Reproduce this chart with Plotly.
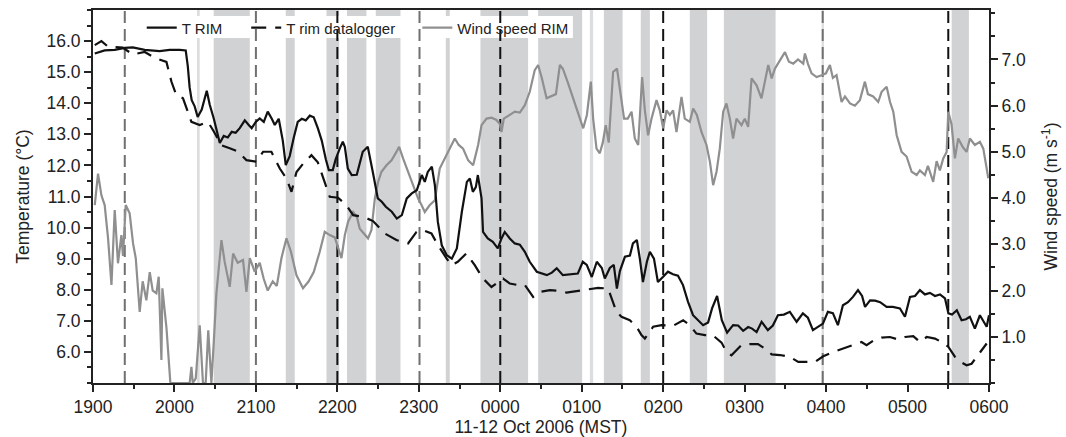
import plotly.graph_objects as go

# ---------------- data (time in minutes after 19:00 MST, 11 Oct 2006) ----------------
TICK_MIN = [0, 60, 120, 180, 240, 300, 360, 420, 480, 540, 600, 660]
TICK_LABELS = ["1900", "2000", "2100", "2200", "2300", "0000",
               "0100", "0200", "0300", "0400", "0500", "0600"]
TEMP_TICKS = [6, 7, 8, 9, 10, 11, 12, 13, 14, 15, 16]
WIND_TICKS = [1, 2, 3, 4, 5, 6, 7]

t_rim_min = [1.3, 8.6, 16, 23.4, 29.3, 38.1, 49.1, 56.5, 63.9, 68.3, 69.8, 71.2, 72.7, 74.9, 77.1,
             80.1, 83.8, 86, 89, 91.1, 93.4, 96.3, 99.3, 102.2, 105.1, 108.1, 111.8, 114.7, 116.9,
             119.9, 122.8, 125.8, 128.7, 131.7, 133.9, 136.8, 139.8, 142, 144.9, 147.9, 150.8,
             153.8, 156.7, 159.7, 162.6, 165.6, 168.5, 171.5, 173.7, 176.6, 178.8, 181.8, 184,
             185.5, 187.7, 190.6, 194.3, 198.7, 202.4, 206.1, 209.8, 212.7, 215.7, 220.1, 223.8,
             227.5, 231.1, 234.8, 238.5, 242.2, 244.4, 246.6, 249.6, 251.8, 254, 256.9, 260.6,
             264.3, 268, 271.7, 275.4, 277.6, 279.8, 282, 283.5, 286.2, 287.3, 290.8, 294.5,
             298.2, 300.9, 303.3, 307, 310.7, 314.4, 318.1, 321.7, 326.9, 334.3, 338, 341.6,
             346.1, 351.1, 357.1, 360.8, 363.7, 367.4, 371.1, 374.8, 377, 380.7, 383.6, 385.9,
             388.1, 391.8, 395.5, 397.7, 400.6, 402.8, 405.1, 408, 410.2, 413.2, 416.1, 419.8,
             423.5, 427.2, 430.9, 434.6, 438.3, 442, 445.7, 449.4, 453.1, 456, 459.7, 463.2,
             467.1, 471.5, 475.2, 478.9, 482.6, 485.5, 488.8, 492.5, 497.1, 500.8, 504.5, 508.9,
             513.3, 518.3, 522.9, 526.6, 530.3, 534, 537.7, 541.3, 545, 548.7, 552.4, 556.1,
             559.8, 563.5, 566.5, 568.7, 572.4, 576.1, 579.8, 584.6, 589.2, 594.4, 598.1, 601.8,
             605.5, 609.1, 612.8, 616.5, 620.2, 623.9, 627.6, 630.1, 632.8, 636.3, 639.8, 643,
             645.9, 649.6, 653.3, 658.3, 660]
t_rim_val = [15.6, 15.7, 15.72, 15.78, 15.8, 15.72, 15.68, 15.72, 15.72, 15.7, 15.2, 14.5, 14.1,
             13.9, 13.56, 13.8, 14.4, 13.95, 13.5, 13.1, 12.72, 12.95, 12.9, 13.08, 13.05, 13.2,
             13.45, 13.3, 13.2, 13.4, 13.51, 13.4, 13.73, 13.5, 13.3, 13.5, 12.8, 12.01, 12.3,
             12.9, 13.4, 13.5, 13.45, 13.6, 13.55, 13.2, 12.8, 12.2, 11.85, 11.85, 12.2, 12.55,
             12.76, 12.6, 11.9, 11.69, 11.7, 12.44, 12.6, 11.79, 10.94, 10.83, 10.67, 10.51, 10.29,
             10.4, 10.94, 11.1, 11.2, 11.69, 11.47, 11.79, 11.96, 11.37, 10.19, 9.43, 9.11, 9.0,
             9.33, 10.51, 11.47, 11.58, 11.15, 11.3, 11.69, 10.94, 9.86, 9.65, 9.54, 9.33, 9.65,
             9.86, 9.65, 9.49, 9.45, 9.22, 8.9, 8.58, 8.47, 8.55, 8.69, 8.47, 8.5, 8.52, 8.9, 8.8,
             8.41, 8.9, 8.7, 8.36, 8.7, 8.8, 8.04, 8.6, 9.06, 9.1, 9.49, 9.6, 9.0, 8.25, 8.9, 9.22,
             9.0, 8.25, 8.41, 8.58, 8.5, 8.45, 8.15, 7.61, 7.18, 7.02, 6.86, 6.95, 7.4, 7.8, 7.02,
             6.62, 6.86, 6.85, 6.68, 6.8, 6.75, 6.64, 6.97, 6.7, 6.85, 7.18, 7.2, 7.29, 6.97, 7.24,
             7.1, 6.7, 6.8, 6.91, 7.29, 7.25, 6.86, 7.5, 7.6, 7.77, 7.99, 7.8, 7.45, 7.66, 7.65,
             7.6, 7.45, 7.45, 7.4, 7.13, 7.77, 7.8, 7.99, 7.85, 7.9, 7.8, 7.85, 7.72, 7.24, 7.2,
             7.34, 7.02, 7.05, 7.13, 6.75, 7.18, 6.81, 7.18]

t_log_min = [1.3, 6.2, 11.1, 21.9, 29.3, 38.1, 45.5, 54.1, 57.8, 61.4, 66.3, 68.8, 72.5, 78.6,
             84.7, 88.9, 94.6, 100.7, 106.6, 113, 120.4, 125.3, 131.4, 137.6, 142.5, 146.2,
             149.9, 154.7, 160.9, 165.6, 169.5, 174.4, 180.5, 186.7, 191.6, 198.9, 206.3, 214.9,
             223.5, 232.1, 238.3, 243.1, 249.3, 254.2, 260.4, 264.1, 268.7, 275.1, 281.2, 287.3,
             293.5, 298.4, 302.1, 307, 313.1, 318.1, 324.2, 329.1, 336.5, 342.4, 348.8, 354.9,
             361, 366.7, 372.1, 379.4, 381.9, 385.6, 389.3, 395.4, 400.4, 404, 406.5, 408.9,
             412.6, 418.8, 427.3, 434.7, 439.6, 444.5, 450.7, 456.5, 463, 466.6, 470.3, 477.7,
             483.9, 489.8, 494.9, 499.9, 506, 513.3, 519.5, 525.6, 531.8, 537.9, 545.2, 552.6,
             560, 566.1, 569.8, 574.7, 580.9, 587, 593.1, 598.1, 604.2, 609.1, 614.1, 620.2,
             626.3, 630.1, 635, 639.9, 643.5, 647.2, 650.9, 655.8, 658.3]
t_log_val = [15.87, 16.0, 15.82, 15.79, 15.57, 15.65, 15.46, 15.33, 14.69, 14.26, 14.16, 13.83,
             13.4, 13.3, 13.4, 13.1, 12.65, 12.55, 12.45, 12.17, 12.12, 12.44, 12.44, 11.9, 11.58,
             11.15, 11.79, 12.05, 12.33, 12.1, 11.58, 10.99, 10.96, 10.72, 10.4, 10.35, 10.21,
             9.81, 9.6, 9.49, 9.86, 9.92, 9.81, 9.43, 9.01, 8.79, 8.9, 9.17, 8.79, 8.36, 8.09,
             8.25, 8.36, 8.2, 8.15, 8.15, 7.77, 7.93, 7.99, 7.97, 7.91, 7.95, 7.99, 8.02, 8.06,
             8.04, 7.72, 7.29, 7.13, 7.02, 6.81, 6.54, 6.43, 6.59, 6.81, 6.86, 6.84, 7.02, 6.86,
             6.59, 6.54, 6.54, 6.3, 6.0, 5.89, 6.22, 6.25, 6.25, 6.11, 5.92, 5.9, 5.84, 5.68,
             5.68, 5.68, 5.86, 6.0, 6.11, 6.22, 6.32, 6.22, 6.36, 6.46, 6.48, 6.4, 6.48, 6.51,
             6.32, 6.48, 6.43, 6.29, 6.16, 5.84, 5.66, 5.57, 5.62, 5.84, 6.11, 6.27]

wind_min = [1.3, 3.7, 6.2, 8.6, 11.1, 13.6, 16, 18.4, 20.9, 22.1, 24.1, 27, 29.5, 31.5, 34.4,
            36.6, 39.3, 41.8, 44, 46.7, 48.4, 50.4, 51.1, 52.8, 54.1, 57, 60.2, 63.9, 68.3, 71.2,
            72.5, 73.5, 75.7, 78.6, 81, 83, 84.9, 87.2, 89, 90.9, 94.6, 97, 100.7, 103.2, 106.6,
            110.5, 113, 115.5, 119.1, 122.8, 125.8, 128.7, 132.4, 135.4, 138.8, 142.5, 145.7,
            149.9, 154.7, 158.9, 162.6, 167, 170.7, 174.4, 178.1, 181.8, 183, 185.5, 187.9,
            191.6, 194.3, 196.5, 200.2, 202.6, 205.1, 207.6, 210, 212.5, 216.2, 219.9, 223.5,
            225.5, 228.4, 232.1, 235.8, 239.5, 242, 244.4, 248.1, 251.8, 255.4, 259.1, 262.8,
            266.5, 269.4, 272.6, 276.3, 280, 283.7, 286.2, 289.9, 293.6, 297.2, 299.7, 300.9,
            302.6, 307, 310.7, 314.4, 318.1, 321.7, 325.4, 327.9, 330.6, 334.1, 337.3, 341,
            343.9, 346.1, 349.8, 353.7, 357.4, 361.1, 363.8, 366.7, 368.4, 370.9, 373.3, 375.5,
            377.7, 379.9, 383.1, 386, 388.4, 391.2, 393.9, 396.7, 399.1, 401.6, 404.5, 406.5,
            408.9, 411.4, 415.1, 417.5, 420, 422.5, 424.9, 427.3, 429.8, 433.5, 435.9, 439.6,
            442.1, 444.8, 448.2, 451.9, 454.4, 456.8, 459.3, 461.7, 464.2, 466.6, 469.1, 471.5,
            474, 477.7, 480.1, 482.6, 485.1, 488.8, 492.4, 494.9, 497.4, 499.9, 502.3, 506,
            509.7, 512.6, 515.8, 519.3, 523.2, 524.4, 526.7, 529.3, 533, 536.7, 539.9, 542.8,
            545, 547.7, 551.4, 553.9, 557.6, 561.2, 564.9, 568.6, 570.8, 574.7, 578.4, 580.9,
            584.6, 587.1, 589.5, 592, 595.6, 599.3, 603, 606.7, 609.1, 612.8, 615, 618.9, 621.4,
            623.8, 626.3, 628.8, 630, 632.4, 634.9, 637.3, 640.8, 643.5, 645.9, 649.6, 653.3,
            655.8, 659.5]
wind_val = [3.85, 4.53, 4.06, 3.85, 3.13, 2.12, 3.74, 2.59, 3.2, 2.75, 3.85, 3.67, 3.02, 2.7,
            1.54, 2.2, 1.79, 2.4, 2.0, 1.94, 2.3, 0.5, 2.05, 1.6, 1.2, 0, 0, 0, 0, 0, 0.35, 0,
            0.1, 1.25, 0, 0, 1.14, 0, 0.9, 1.94, 3.09, 2.62, 2.08, 2.8, 2.6, 2.66, 1.97, 2.7,
            2.41, 2.6, 2.25, 2.0, 2.2, 2.1, 2.7, 3.13, 2.85, 2.33, 2.05, 2.2, 2.4, 2.84, 3.27,
            3.2, 3.15, 2.84, 2.7, 3.2, 3.49, 3.7, 3.6, 3.34, 3.2, 3.13, 3.31, 3.99, 4.35, 4.57,
            4.71, 4.82, 5.0, 5.11, 4.86, 4.57, 4.24, 3.99, 3.85, 3.7, 3.85, 3.95, 4.64, 4.86,
            5.07, 5.29, 5.15, 5.07, 4.82, 4.71, 5.15, 5.58, 5.72, 5.74, 5.69, 5.6, 5.43, 5.72,
            5.8, 5.87, 5.85, 6.01, 6.3, 6.77, 6.88, 6.6, 6.16, 6.2, 6.25, 6.88, 6.8, 6.5, 6.16,
            5.8, 5.51, 5.8, 6.52, 5.72, 5.07, 4.97, 5.2, 5.58, 5.2, 6.73, 6.8, 6.3, 5.72, 5.72,
            5.87, 5.29, 5.15, 6.62, 5.9, 5.36, 5.72, 6.12, 5.9, 5.51, 5.9, 5.8, 5.9, 5.43, 6.19,
            5.72, 5.65, 5.94, 5.8, 5.43, 5.15, 4.79, 4.28, 4.57, 5.07, 5.87, 6.05, 5.72, 5.29,
            5.72, 5.58, 5.72, 5.54, 6.59, 6.44, 6.16, 6.5, 6.88, 6.59, 6.8, 6.98, 7.16, 6.95,
            6.91, 7.0, 6.91, 7.13, 6.9, 6.7, 6.62, 6.66, 6.7, 6.88, 6.6, 6.66, 6.08, 6.2, 6.05,
            6.0, 6.12, 6.52, 6.25, 6.2, 6.08, 6.3, 6.41, 6.08, 5.87, 5.36, 5.0, 4.9, 4.57, 4.5,
            4.6, 4.5, 4.7, 4.35, 4.8, 4.6, 4.86, 5.0, 5.87, 5.6, 4.86, 5.29, 5.1, 5.0, 5.29,
            5.15, 5.22, 5.07, 4.43]

# shaded periods (minutes after 1900)
shade_start = [88.9, 142.0, 172.0, 187.1, 208.3, 259.9, 285.4, 327.9, 376.3, 403.5, 439.6, 464.7, 632.5]
shade_end = [115.5, 148.6, 181.3, 201.4, 226.5, 262.8, 320.5, 360.3, 390.1, 410.2, 452.4, 502.8, 645.2]
light_start = [76.6, 366.0, 536.7]
light_end = [78.6, 368.4, 538.4]

# vertical dashed markers (minutes after 1900)
dash_black = [180, 300, 420, 630]
dash_gray = [23.4, 120, 240.5, 537.5]

# ---------------- figure ----------------
FONT = "Liberation Sans, Arial, Helvetica, sans-serif"
INK = "#222222"

fig = go.Figure()

fig.add_trace(go.Scatter(x=wind_min, y=wind_val, yaxis="y", mode="lines",
                         name="Wind speed RIM", legend="legend3", showlegend=True,
                         line=dict(color="#8f8f8f", width=2.2)))
fig.add_trace(go.Scatter(x=t_log_min, y=t_log_val, yaxis="y2", mode="lines",
                         name="T rim datalogger", legend="legend2", showlegend=True,
                         line=dict(color="#111111", width=2.2, dash="15px,9px")))
fig.add_trace(go.Scatter(x=t_rim_min, y=t_rim_val, yaxis="y2", mode="lines",
                         name="T RIM", legend="legend", showlegend=True,
                         line=dict(color="#111111", width=2.2)))

shapes = []
for a, b in zip(shade_start, shade_end):
    shapes.append(dict(type="rect", xref="x", yref="paper", x0=a, x1=b, y0=0, y1=1,
                       fillcolor="#d1d2d4", line=dict(width=0), layer="below"))
for a, b in zip(light_start, light_end):
    shapes.append(dict(type="rect", xref="x", yref="paper", x0=a, x1=b, y0=0, y1=1,
                       fillcolor="#dcdddf", line=dict(width=0), layer="below"))
# white legend background
shapes.append(dict(type="rect", xref="paper", yref="paper", x0=0.052, x1=0.5356,
                   y0=0.925, y1=0.984, fillcolor="white", line=dict(width=0), layer="below"))
for xv in dash_gray:
    shapes.append(dict(type="line", xref="x", yref="paper", x0=xv, x1=xv, y0=0, y1=1,
                       line=dict(color="#707070", width=2, dash="12px,6px"), layer="below"))
for xv in dash_black:
    shapes.append(dict(type="line", xref="x", yref="paper", x0=xv, x1=xv, y0=0, y1=1,
                       line=dict(color="#111111", width=2, dash="12px,6px"), layer="below"))

axis_common = dict(showgrid=False, zeroline=False, showline=True, linewidth=2, linecolor=INK,
                   ticks="outside", ticklen=7, tickwidth=2, tickcolor=INK,
                   tickfont=dict(size=17.5, color=INK, family=FONT))

leg_common = dict(orientation="h", xanchor="left", yanchor="middle", y=0.952, visible=True,
                  bgcolor="rgba(0,0,0,0)", font=dict(size=15, color=INK, family=FONT),
                  itemwidth=30)

fig.update_layout(
    width=1066, height=437,
    margin=dict(l=93, r=77, t=10, b=54, autoexpand=False),
    paper_bgcolor="white", plot_bgcolor="white",
    showlegend=True,
    font=dict(family=FONT, color=INK, size=17.5),
    shapes=shapes,
    xaxis=dict(range=[0, 660], tickmode="array", tickvals=TICK_MIN, ticktext=TICK_LABELS,
               mirror=True,
               minor=dict(ticks="outside", ticklen=4, tickwidth=1.5, tickcolor=INK,
                          tickmode="linear", tick0=0, dtick=30),
               title=dict(text="11-12 Oct 2006 (MST)", standoff=4,
                          font=dict(size=17.5, color=INK, family=FONT)),
               **axis_common),
    yaxis=dict(range=[0, 8.07], side="right", tickmode="array", tickvals=WIND_TICKS,
               tickformat=".1f",
               minor=dict(ticks="outside", ticklen=4, tickwidth=1.5, tickcolor=INK,
                          tickmode="linear", tick0=0, dtick=0.5),
               title=dict(text="Wind speed (m s<sup>-1</sup>)", standoff=20,
                          font=dict(size=17.5, color=INK, family=FONT)),
               **axis_common),
    yaxis2=dict(range=[5, 17], side="left", overlaying="y", tickmode="array",
                tickvals=TEMP_TICKS, tickformat=".1f",
                minor=dict(ticks="outside", ticklen=4, tickwidth=1.5, tickcolor=INK,
                           tickmode="linear", tick0=0, dtick=0.5),
                title=dict(text="Temperature (°C)", standoff=12,
                           font=dict(size=17.5, color=INK, family=FONT)),
                **axis_common),
    legend=dict(x=0.0544, **leg_common),
    legend2=dict(x=0.171, **leg_common),
    legend3=dict(x=0.362, **leg_common),
)

fig.write_html("out.html", config={"displayModeBar": False},
               post_script="document.body.style.margin='0';")
